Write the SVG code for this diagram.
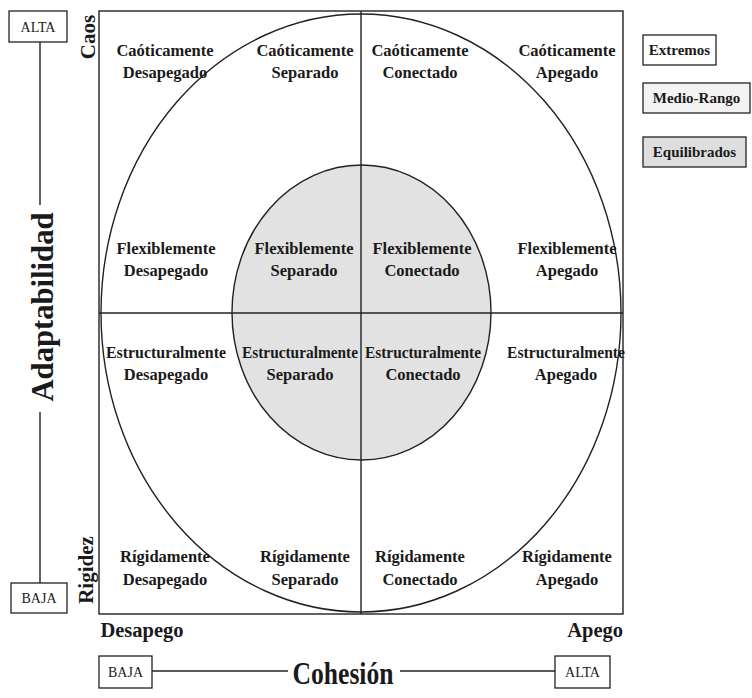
<svg xmlns="http://www.w3.org/2000/svg" width="752" height="698" viewBox="0 0 752 698">
<style>
.lbl{font-family:"Liberation Serif","Times New Roman",serif;font-weight:bold;font-size:16.5px;fill:#1a1a1a;text-anchor:middle}
.box{fill:#fff;stroke:#222;stroke-width:1.3}
.sm{font-family:"Liberation Serif","Times New Roman",serif;font-size:14px;fill:#1a1a1a;text-anchor:middle}
.leg{font-family:"Liberation Serif","Times New Roman",serif;font-weight:bold;font-size:15px;fill:#1a1a1a;text-anchor:middle}
.ax{font-family:"Liberation Serif","Times New Roman",serif;font-weight:bold;fill:#1a1a1a;text-anchor:middle}
.ln{stroke:#222;stroke-width:1.4;fill:none}
</style>
<rect width="752" height="698" fill="#fff"/>
<g id="frame">
<rect x="99" y="11" width="524" height="603" class="ln"/>
<ellipse cx="361" cy="313" rx="260" ry="299" class="ln"/>
<ellipse cx="361.5" cy="312.5" rx="129.5" ry="147.5" fill="#e2e2e2" stroke="#222" stroke-width="1.4"/>
</g>
<g id="connectors">
<line x1="361" y1="11" x2="361" y2="614" class="ln"/>
<line x1="99" y1="313" x2="623" y2="313" class="ln"/>
<line x1="40" y1="42" x2="40" y2="205" class="ln"/>
<line x1="40" y1="412" x2="40" y2="583" class="ln"/>
<line x1="152" y1="671" x2="288" y2="671" class="ln"/>
<line x1="400" y1="671" x2="555" y2="671" class="ln"/>
</g>
<g id="n-cd"><text class="lbl" x="165" y="56">Caóticamente</text><text class="lbl" x="165" y="78">Desapegado</text></g>
<g id="n-cs"><text class="lbl" x="305" y="56">Caóticamente</text><text class="lbl" x="305" y="78">Separado</text></g>
<g id="n-cc"><text class="lbl" x="420" y="56">Caóticamente</text><text class="lbl" x="420" y="78">Conectado</text></g>
<g id="n-ca"><text class="lbl" x="567" y="56">Caóticamente</text><text class="lbl" x="567" y="78">Apegado</text></g>
<g id="n-fd"><text class="lbl" x="166" y="254">Flexiblemente</text><text class="lbl" x="166" y="276">Desapegado</text></g>
<g id="n-fs"><text class="lbl" x="304" y="254">Flexiblemente</text><text class="lbl" x="304" y="276">Separado</text></g>
<g id="n-fc"><text class="lbl" x="422" y="254">Flexiblemente</text><text class="lbl" x="422" y="276">Conectado</text></g>
<g id="n-fa"><text class="lbl" x="567" y="254">Flexiblemente</text><text class="lbl" x="567" y="276">Apegado</text></g>
<g id="n-ed"><text class="lbl" x="166" y="358" textLength="120" lengthAdjust="spacingAndGlyphs">Estructuralmente</text><text class="lbl" x="166" y="380">Desapegado</text></g>
<g id="n-es"><text class="lbl" x="300" y="358" textLength="116" lengthAdjust="spacingAndGlyphs">Estructuralmente</text><text class="lbl" x="300" y="380">Separado</text></g>
<g id="n-ec"><text class="lbl" x="423" y="358" textLength="116" lengthAdjust="spacingAndGlyphs">Estructuralmente</text><text class="lbl" x="423" y="380">Conectado</text></g>
<g id="n-ea"><text class="lbl" x="566" y="358" textLength="118" lengthAdjust="spacingAndGlyphs">Estructuralmente</text><text class="lbl" x="566" y="380">Apegado</text></g>
<g id="n-rd"><text class="lbl" x="165" y="562">Rígidamente</text><text class="lbl" x="165" y="585">Desapegado</text></g>
<g id="n-rs"><text class="lbl" x="305" y="562">Rígidamente</text><text class="lbl" x="305" y="585">Separado</text></g>
<g id="n-rc"><text class="lbl" x="420" y="562">Rígidamente</text><text class="lbl" x="420" y="585">Conectado</text></g>
<g id="n-ra"><text class="lbl" x="567" y="562">Rígidamente</text><text class="lbl" x="567" y="585">Apegado</text></g>
<g id="y-alta"><rect class="box" x="9" y="11" width="58" height="31"/><text class="sm" x="38" y="32">ALTA</text></g>
<g id="y-baja"><rect class="box" x="11" y="583" width="56" height="30"/><text class="sm" x="39" y="603">BAJA</text></g>
<g id="y-label"><text class="ax" font-size="31" x="53" y="307" transform="rotate(-90 53 307)" textLength="189" lengthAdjust="spacingAndGlyphs">Adaptabilidad</text></g>
<g id="caos"><text class="ax" font-size="21" x="95" y="37" transform="rotate(-90 95 37)">Caos</text></g>
<g id="rigidez"><text class="ax" font-size="21" x="93" y="570" transform="rotate(-90 93 570)">Rigidez</text></g>
<g id="desapego"><text class="ax" font-size="20.5" x="142" y="637">Desapego</text></g>
<g id="apego"><text class="ax" font-size="20.5" x="623" y="637" style="text-anchor:end">Apego</text></g>
<g id="x-baja"><rect class="box" x="99" y="656" width="53" height="32"/><text class="sm" x="125.5" y="677">BAJA</text></g>
<g id="x-alta"><rect class="box" x="555" y="656" width="55" height="32"/><text class="sm" x="582.5" y="677">ALTA</text></g>
<g id="x-label"><text class="ax" font-size="31" x="343" y="684" textLength="101" lengthAdjust="spacingAndGlyphs">Cohesión</text></g>
<g id="leg-ext"><rect class="box" x="643" y="35" width="73" height="30"/><text class="leg" x="679.5" y="55">Extremos</text></g>
<g id="leg-med"><rect x="643" y="83" width="107" height="30" fill="#f3f3f3" stroke="#222" stroke-width="1.3"/><text class="leg" x="696.5" y="103">Medio-Rango</text></g>
<g id="leg-eq"><rect x="643" y="137" width="103" height="30" fill="#dedede" stroke="#222" stroke-width="1.3"/><text class="leg" x="694.5" y="157">Equilibrados</text></g>
</svg>
